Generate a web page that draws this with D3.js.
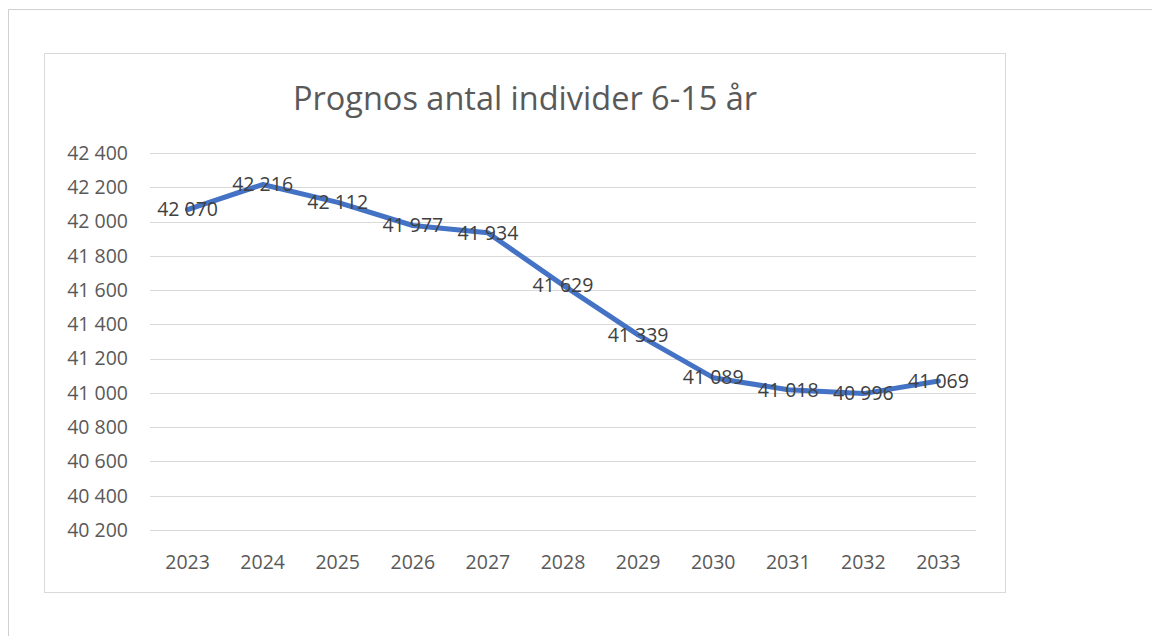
<!DOCTYPE html>
<html>
<head>
<meta charset="utf-8">
<script src="https://cdn.jsdelivr.net/npm/d3@7"></script>
<style>
  body { margin: 0; background: #fff; }
  text { font-family: "Open Sans", "Noto Sans", sans-serif; }
</style>
</head>
<body>
<div id="chart"></div>
<script>
var width = 1152, height = 636;

var years = ['2023', '2024', '2025', '2026', '2027', '2028', '2029', '2030', '2031', '2032', '2033'];
var individer = [42070, 42216, 42112, 41977, 41934, 41629, 41339, 41089, 41018, 40996, 41069];
var yTicks = [40200, 40400, 40600, 40800, 41000, 41200, 41400, 41600, 41800, 42000, 42200, 42400];
var title = 'Prognos antal individer 6-15 år';

var fmt = function(v){
    return d3.format(',')(v).replace(/,/g, ' ');
};

var svg = d3.select('#chart')
    .append('svg')
    .attr('width', width)
    .attr('height', height);

// outer frame (page)
svg.append('path')
    .attr('d', 'M8.5,636 L8.5,9.5 L1152,9.5')
    .attr('fill', 'none')
    .attr('stroke', '#d0d0d0');

// chart box
svg.append('rect')
    .attr('x', 44.5).attr('y', 53.5)
    .attr('width', 961).attr('height', 539)
    .attr('fill', '#fff')
    .attr('stroke', '#d9d9d9');

var xScale = d3.scaleBand()
    .domain(years)
    .range([150, 976]);

var yScale = d3.scaleLinear()
    .domain([40200, 42400])
    .range([530, 153]);

// gridlines
svg.selectAll('.grid')
    .data(yTicks)
    .enter()
    .append('line')
    .attr('class', 'grid')
    .attr('x1', 150).attr('x2', 976)
    .attr('y1', function(d){ return Math.round(yScale(d)) + 0.5; })
    .attr('y2', function(d){ return Math.round(yScale(d)) + 0.5; })
    .attr('stroke', '#d9d9d9')
    .attr('stroke-width', 1);

// y labels
svg.selectAll('.ylab')
    .data(yTicks)
    .enter()
    .append('text')
    .attr('x', 128)
    .attr('y', function(d){ return yScale(d); })
    .attr('dy', '0.35em')
    .attr('text-anchor', 'end')
    .attr('font-size', '19.5px')
    .attr('fill', '#595959')
    .text(fmt);

// x labels
svg.selectAll('.xlab')
    .data(years)
    .enter()
    .append('text')
    .attr('x', function(d){ return xScale(d) + xScale.bandwidth()/2; })
    .attr('y', 562)
    .attr('dy', '0.35em')
    .attr('text-anchor', 'middle')
    .attr('font-size', '19.5px')
    .attr('fill', '#595959')
    .text(function(d){ return d; });

// title
svg.append('text')
    .attr('x', 525)
    .attr('y', 99)
    .attr('dy', '0.35em')
    .attr('text-anchor', 'middle')
    .attr('font-size', '32.5px')
    .attr('fill', '#595959')
    .text(title);

var points = years.map(function(y, i){ return [y, individer[i]]; });

var line = d3.line()
    .x(function(d){ return xScale(d[0]) + xScale.bandwidth()/2; })
    .y(function(d){ return yScale(d[1]); });

svg.append('path')
    .datum(points)
    .attr('d', line)
    .attr('fill', 'none')
    .attr('stroke', '#4472c4')
    .attr('stroke-width', 5)
    .attr('stroke-linecap', 'round')
    .attr('stroke-linejoin', 'round');

// data labels
svg.selectAll('.dlab')
    .data(points)
    .enter()
    .append('text')
    .attr('x', function(d){ return xScale(d[0]) + xScale.bandwidth()/2; })
    .attr('y', function(d){ return yScale(d[1]); })
    .attr('dy', '0.35em')
    .attr('text-anchor', 'middle')
    .attr('font-size', '19.5px')
    .attr('fill', '#404040')
    .text(function(d){ return fmt(d[1]); });
</script>
</body>
</html>
